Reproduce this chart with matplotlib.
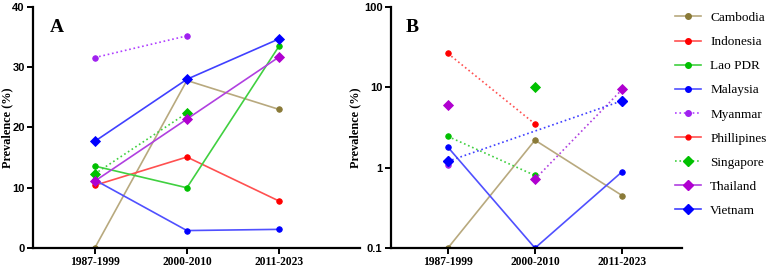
import numpy as np
import matplotlib
matplotlib.use("Agg")
import matplotlib.pyplot as plt
from matplotlib.lines import Line2D

periods = ["1987-1999", "2000-2010", "2011-2023"]
countries = ["Cambodia", "Indonesia", "Lao PDR", "Malaysia", "Myanmar",
             "Phillipines", "Singapore", "Thailand", "Vietnam"]

# panel A values (prevalence %), nan = no data
cambodia_a = [0.0, 27.8, 23.0]
indonesia_a = [10.4, 15.1, 7.8]
lao_a = [13.6, 10.0, 33.5]
malaysia_a = [11.3, 2.9, 3.1]
myanmar_a = [31.6, 35.2, np.nan]
phillipines_a = [10.9, np.nan, np.nan]
singapore_a = [12.3, 22.4, np.nan]
thailand_a = [11.1, 21.4, 31.7]
vietnam_a = [17.7, 28.0, 34.7]

# panel B values (log scale)
cambodia_b = [0.1, 2.2, 0.45]
indonesia_b = [26.4, 3.5, np.nan]
lao_b = [2.45, 0.80, np.nan]
malaysia_b = [1.8, 0.1, 0.89]
myanmar_b = [1.07, np.nan, np.nan]
singapore_b = [np.nan, 10.2, np.nan]
thailand_b_first = [6.1, np.nan, np.nan]
thailand_b = [np.nan, 0.72, 9.4]
vietnam_b = [1.2, np.nan, 6.8]

# style per country: line colour, marker colour, marker, marker size
styles = {
    "Cambodia": ("#b8a97e", "#8a7a38", "o", 4),
    "Indonesia": ("#ff5050", "#ff0000", "o", 4),
    "Lao PDR": ("#40d040", "#00c000", "o", 4),
    "Malaysia": ("#5050ff", "#0000ff", "o", 4),
    "Myanmar": ("#b040ff", "#a020f0", "o", 4),
    "Phillipines": ("#ff5050", "#ff0000", "o", 3.5),
    "Singapore": ("#40d040", "#00c000", "D", 5),
    "Thailand": ("#b040e0", "#b000d0", "D", 5),
    "Vietnam": ("#4040ff", "#0000ff", "D", 5),
}

serif = "Liberation Serif"
sans = "Liberation Sans"

fig = plt.figure(figsize=(7.77, 2.67), dpi=100)
ax_a = fig.add_axes([0.0425, 0.071, 0.421, 0.903])
ax_b = fig.add_axes([0.503, 0.071, 0.375, 0.903])
x = np.arange(len(periods))


def draw(ax, name, vals, ls="-"):
    lc, mc, mk, ms = styles[name]
    ax.plot(x, vals, color=lc, lw=1.2, ls=ls, marker=mk, ms=ms,
            markerfacecolor=mc, markeredgecolor=mc, markeredgewidth=0.6)


draw(ax_a, "Cambodia", cambodia_a)
draw(ax_a, "Indonesia", indonesia_a)
draw(ax_a, "Lao PDR", lao_a)
draw(ax_a, "Malaysia", malaysia_a)
draw(ax_a, "Myanmar", myanmar_a, ":")
draw(ax_a, "Phillipines", phillipines_a)
draw(ax_a, "Singapore", singapore_a, ":")
draw(ax_a, "Thailand", thailand_a)
draw(ax_a, "Vietnam", vietnam_a)

draw(ax_b, "Cambodia", cambodia_b)
draw(ax_b, "Indonesia", indonesia_b, ":")
draw(ax_b, "Lao PDR", lao_b, ":")
draw(ax_b, "Malaysia", malaysia_b)
draw(ax_b, "Myanmar", myanmar_b, ":")
draw(ax_b, "Singapore", singapore_b, ":")
draw(ax_b, "Thailand", thailand_b_first, ":")
draw(ax_b, "Thailand", thailand_b, ":")
# Vietnam dotted line skips the missing middle period
vx = [i for i, v in enumerate(vietnam_b) if not np.isnan(v)]
lc, mc, mk, ms = styles["Vietnam"]
ax_b.plot(vx, [vietnam_b[i] for i in vx], color=lc, lw=1.2, ls=":", marker=mk,
          ms=ms, markerfacecolor=mc, markeredgecolor=mc)

ax_a.set_ylim(0, 40)
ax_a.set_yticks([0, 10, 20, 30, 40])
ax_a.set_xlim(-0.67, 2.88)

ax_b.set_yscale("log")
ax_b.set_ylim(0.1, 100)
ax_b.set_yticks([0.1, 1, 10, 100])
ax_b.set_yticklabels(["0.1", "1", "10", "100"])
ax_b.yaxis.set_minor_locator(matplotlib.ticker.NullLocator())
ax_b.set_xlim(-0.655, 2.69)

for ax, lab, lx in ((ax_a, "A", -0.06), (ax_b, "B", -0.103)):
    ax.set_xticks(x)
    ax.set_xticklabels(periods, fontfamily=serif, fontweight="bold", fontsize=8.3)
    for t in ax.get_yticklabels():
        t.set_fontfamily(sans)
        t.set_fontweight("bold")
        t.set_fontsize(8)
    ax.set_ylabel("Prevalence (%)", fontfamily=serif, fontweight="bold",
                  fontsize=8.8)
    ax.yaxis.set_label_coords(lx, 0.5)
    for s in ("top", "right"):
        ax.spines[s].set_visible(False)
    for s in ("left", "bottom"):
        ax.spines[s].set_linewidth(1.6)
    ax.tick_params(width=1.4, length=4, pad=2)
    ax.text(0.05, 0.95, lab, transform=ax.transAxes, fontfamily=serif,
            fontweight="bold", fontsize=14, va="top", ha="left")

handles = []
for name in countries:
    lc, mc, mk, ms = styles[name]
    ls = ":" if name in ("Myanmar", "Singapore") else "-"
    handles.append(Line2D([], [], color=lc, lw=1.2, ls=ls, marker=mk, ms=ms,
                          markerfacecolor=mc, markeredgecolor=mc))
fig.legend(handles, countries, loc="upper left", bbox_to_anchor=(0.853, 1.0),
           frameon=False, prop={"family": serif, "size": 9.5},
           labelspacing=0.9, handlelength=2.0, handletextpad=0.7)

fig.savefig("out.png", dpi=100)
